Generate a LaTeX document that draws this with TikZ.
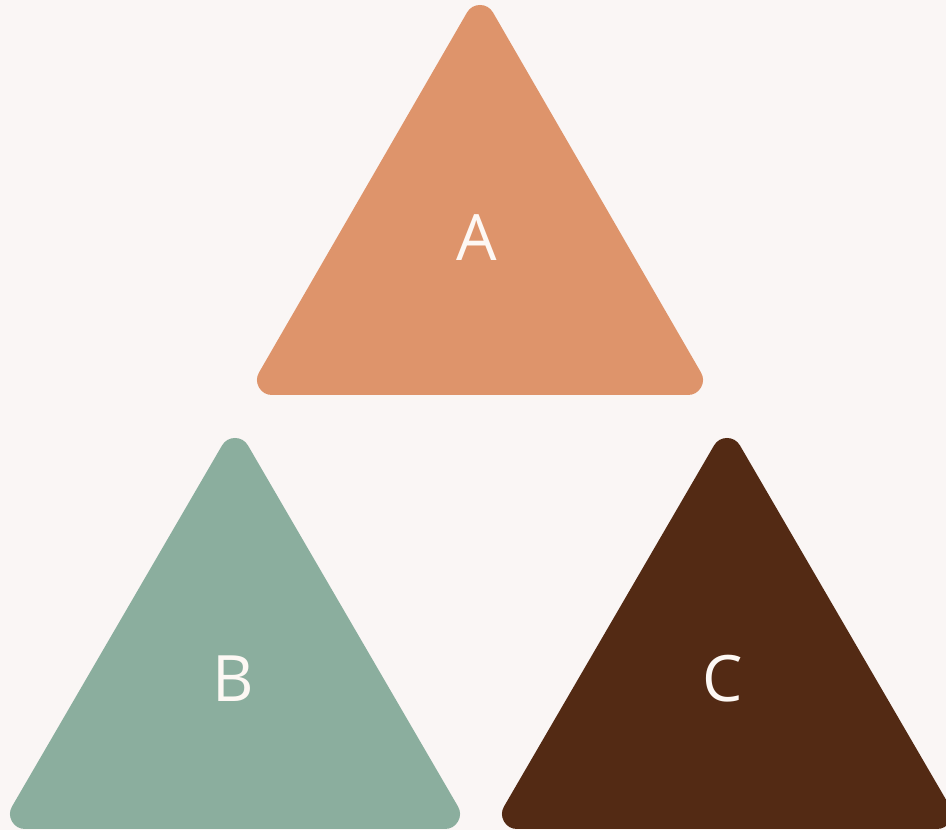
\documentclass[tikz,border=0pt]{standalone}
\usepackage{fontspec}
\setmainfont{Open Sans}
\definecolor{bg}{HTML}{FAF6F5}
\definecolor{ca}{HTML}{DE946B}
\definecolor{cb}{HTML}{8BAE9E}
\definecolor{cc}{HTML}{532A14}
\definecolor{txt}{HTML}{FDF8F4}
\begin{document}
\begin{tikzpicture}[x=1pt,y=1pt,
  tri/.style={line width=30pt,line join=round},
  lbl/.style={text=txt,font=\fontsize{64}{64}\selectfont,inner sep=0pt,anchor=center}]
\fill[bg] (0,0) rectangle (946,830);
\useasboundingbox (0,0) rectangle (946,830);
% A
\filldraw[ca,tri] (480,810) -- (688,450) -- (272,450) -- cycle;
% B
\filldraw[cb,tri] (235,377) -- (445,16) -- (25,16) -- cycle;
% C
\filldraw[cc,tri] (727,377) -- (937,16) -- (517,16) -- cycle;
\node[lbl] (a) at (477,592) {A};
\node[lbl] (b) at (233,151) {B};
\node[lbl] (c) at (723,151) {C};
\end{tikzpicture}
\end{document}
